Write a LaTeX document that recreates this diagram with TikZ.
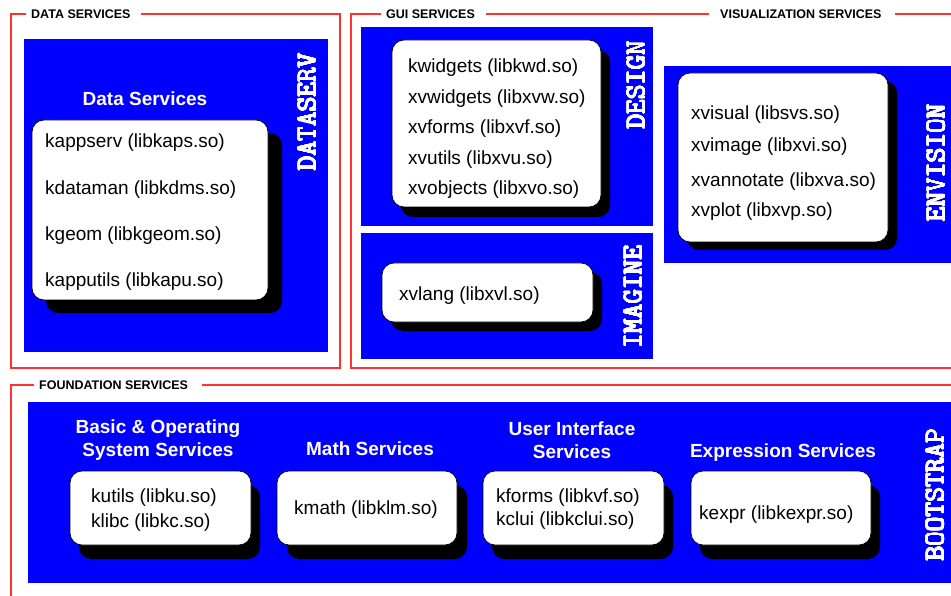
\documentclass[tikz,border=0pt]{standalone}
\usepackage{fontspec}
\setmainfont{Liberation Sans}
\usepackage[copies]{contour}
\contourlength{0.35pt}
\contournumber{16}
\usetikzlibrary{shadows}

\definecolor{kblue}{RGB}{0,0,255}
\definecolor{framered}{RGB}{255,50,50}

% heavy white typewriter lettering for the panel tags
\newcommand{\tagword}[1]{\contour{white}{#1}}

\begin{document}
\begin{tikzpicture}[x=1pt,y=-1pt,
  panel/.style={fill=kblue, draw=none},
  libbox/.style={fill=white, draw=black, line width=0.7pt, rounded corners=12pt, inner sep=0pt},
  dropat/.style 2 args={drop shadow={shadow xshift=#1pt, shadow yshift=-#2pt, fill=black, opacity=1}},
  libtext/.style={anchor=west, inner sep=0pt, font=\fontsize{19}{22}\selectfont},
  grouphead/.style={text=white, font=\fontsize{19}{23}\selectfont\bfseries, align=center, inner sep=0pt},
  sidetag/.style={text=white, rotate=90, inner sep=0pt, font=\fontsize{28.5}{28.5}\selectfont\ttfamily},
  groupframe/.style={draw=framered, line width=1.3pt},
  frametitle/.style={anchor=west, inner sep=0pt, font=\fontsize{12.5}{14}\selectfont\bfseries}
]
\useasboundingbox[fill=white] (0,0) rectangle (951,596);

% ---------- group frames ----------
\draw[groupframe] (26,14) -- (11,14) -- (11,368) -- (340,368) -- (340,14) -- (141,14);
\node[frametitle] (dstitle) at (31,14) {DATA SERVICES};

\draw[groupframe] (381,14) -- (351,14) -- (351,368) -- (951,368);
\draw[groupframe] (486,14) -- (709,14);
\draw[groupframe] (895,14) -- (951,14);
\node[frametitle] (guititle) at (386,14) {GUI SERVICES};
\node[frametitle] (vistitle) at (720,14) {VISUALIZATION SERVICES};

\draw[groupframe] (34,385) -- (11,385) -- (11,596);
\draw[groupframe] (202,385) -- (951,385);
\node[frametitle] (fndtitle) at (39,385) {FOUNDATION SERVICES};

% ---------- blue panels ----------
\path[panel] (24,39) rectangle (328,352);
\path[panel] (361,27) rectangle (653,226);
\path[panel] (361,233) rectangle (653,359);
\path[panel] (664,66) rectangle (951,263);
\path[panel] (28,402) rectangle (951,583);

% ---------- panel tags ----------
\node[sidetag] (tagdataserv) at (307,112) {\tagword{DATASERV}};
\node[sidetag] (tagdesign) at (636,85) {\tagword{DESIGN}};
\node[sidetag] (tagimagine) at (633,297) {\tagword{IMAGINE}};
\node[sidetag] (tagenvision) at (936,163) {\tagword{ENVISION}};
\node[sidetag] (tagbootstrap) at (935,495) {\tagword{BOOTSTRAP}};

% ---------- library boxes ----------
\node[libbox, dropat={14}{13}, minimum width=236pt, minimum height=180pt] (dsbox) at (150,210) {};
\node[libbox, dropat={9}{10}, minimum width=209pt, minimum height=167pt] (designbox) at (496.5,123.5) {};
\node[libbox, dropat={9}{9}, minimum width=211pt, minimum height=59pt] (imaginebox) at (487.5,292.5) {};
\node[libbox, dropat={9}{8}, minimum width=210pt, minimum height=169pt] (envisionbox) at (783,157.5) {};
\node[libbox, dropat={9}{14}, minimum width=181pt, minimum height=74pt] (basicbox) at (160.5,508) {};
\node[libbox, dropat={10}{14}, minimum width=180pt, minimum height=74pt] (mathbox) at (367,508) {};
\node[libbox, dropat={9}{14}, minimum width=181pt, minimum height=74pt] (uibox) at (573.5,508) {};
\node[libbox, dropat={9}{14}, minimum width=180pt, minimum height=74pt] (exprbox) at (781,508) {};

% ---------- headings ----------
\node[grouphead] (dshead) at (145,99) {Data Services};
\node[grouphead] (basichead) at (158,440) {Basic \& Operating\\System Services};
\node[grouphead] (mathhead) at (370,449) {Math Services};
\node[grouphead] (uihead) at (572,440) {User Interface\\Services};
\node[grouphead] (exprhead) at (783,453) {Expression Services};

% ---------- library names ----------
\node[libtext] (kappserv) at (45,142.5) {kappserv (libkaps.so)};
\node[libtext] (kdataman) at (45,189.5) {kdataman (libkdms.so)};
\node[libtext] (kgeom) at (45,235.5) {kgeom (libkgeom.so)};
\node[libtext] (kapputils) at (45,281.5) {kapputils (libkapu.so)};

\node[libtext] (kwidgets) at (408,67.5) {kwidgets (libkwd.so)};
\node[libtext] (xvwidgets) at (408,98.5) {xvwidgets (libxvw.so)};
\node[libtext] (xvforms) at (408,128.5) {xvforms (libxvf.so)};
\node[libtext] (xvutils) at (408,159.5) {xvutils (libxvu.so)};
\node[libtext] (xvobjects) at (408,189.5) {xvobjects (libxvo.so)};

\node[libtext] (xvlang) at (399,295.5) {xvlang (libxvl.so)};

\node[libtext] (xvisual) at (691,114.5) {xvisual (libsvs.so)};
\node[libtext] (xvimage) at (691,146.5) {xvimage (libxvi.so)};
\node[libtext] (xvannotate) at (691,181.5) {xvannotate (libxva.so)};
\node[libtext] (xvplot) at (691,211.5) {xvplot (libxvp.so)};

\node[libtext] (kutils) at (91,497.5) {kutils (libku.so)};
\node[libtext] (klibc) at (91,522.5) {klibc (libkc.so)};
\node[libtext] (kmath) at (294,509.5) {kmath (libklm.so)};
\node[libtext] (kforms) at (496,497.5) {kforms (libkvf.so)};
\node[libtext] (kclui) at (496,520.5) {kclui (libkclui.so)};
\node[libtext] (kexpr) at (699,514.5) {kexpr (libkexpr.so)};
\end{tikzpicture}
\end{document}
